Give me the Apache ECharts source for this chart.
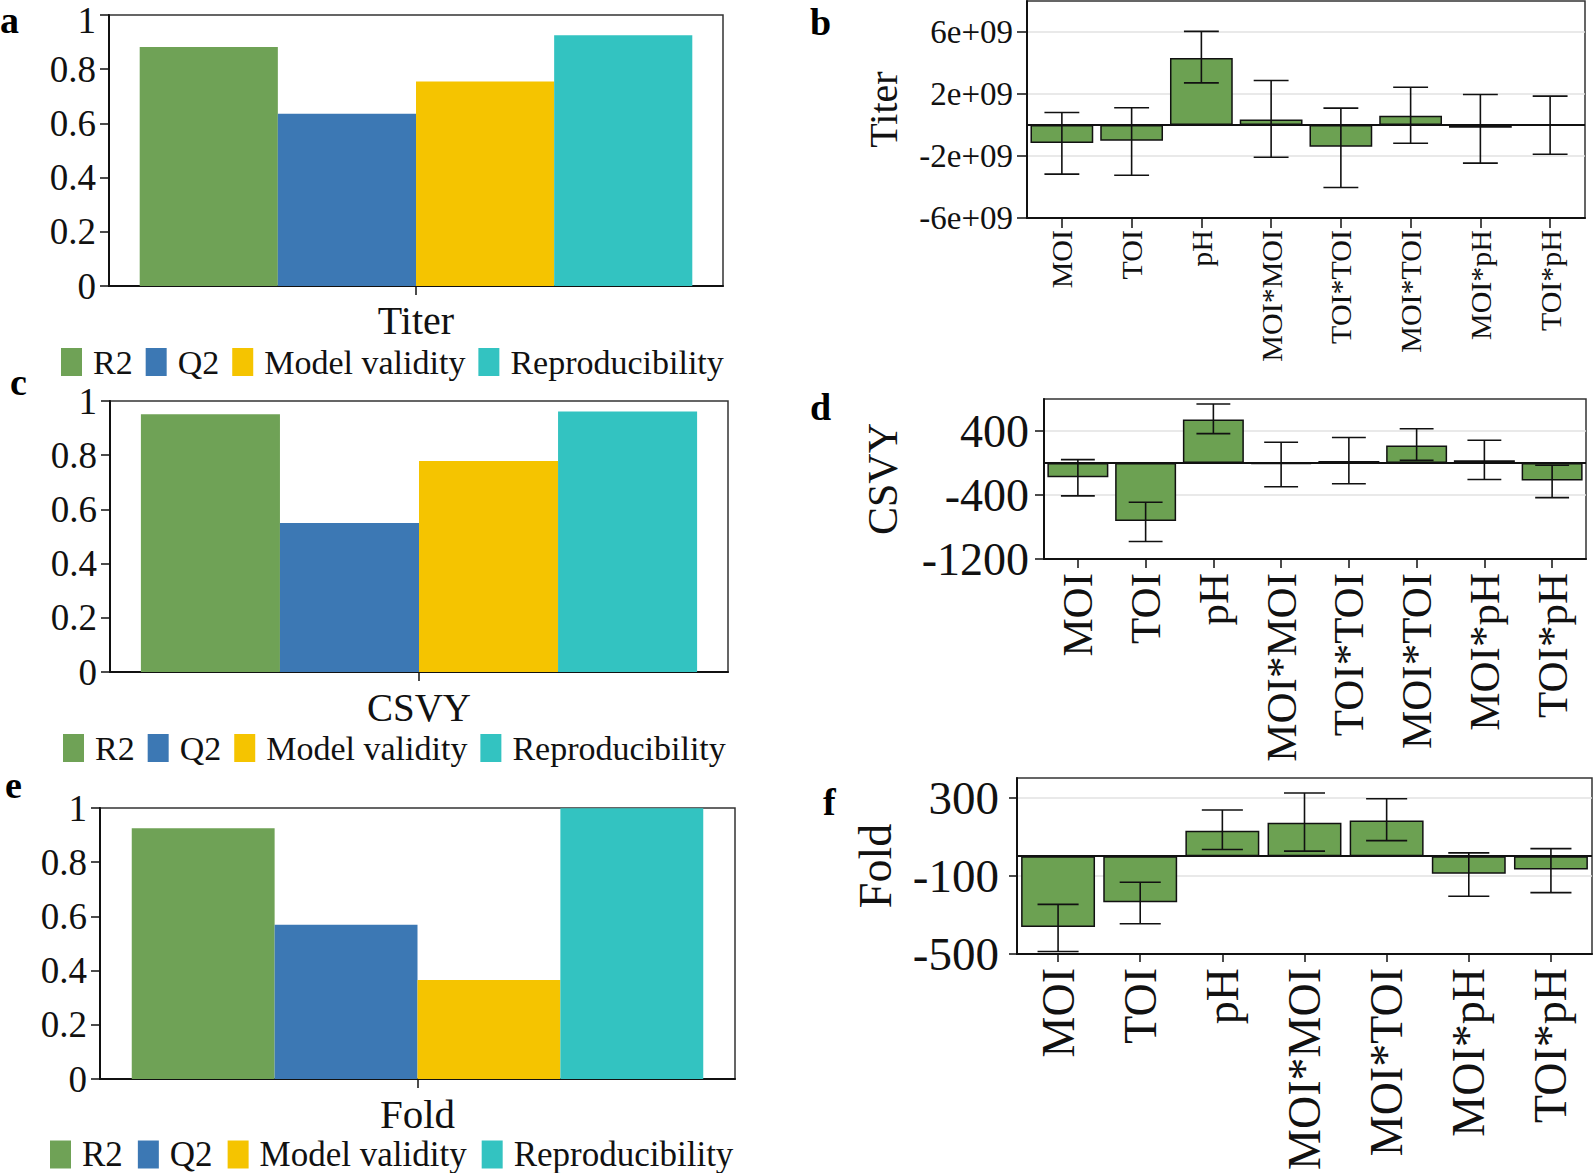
<!DOCTYPE html>
<html>
<head>
<meta charset="utf-8">
<script src="https://cdn.jsdelivr.net/npm/echarts@6/dist/echarts.min.js"></script>
<style>
  html, body { margin: 0; padding: 0; background: #fff; }
  #chart { width: 1594px; height: 1173px; }
</style>
</head>
<body>
<div id="chart"></div>
<script>
// ---------------- data ----------------
const statNames = ['R2', 'Q2', 'Model validity', 'Reproducibility'];
const responseNames = ['Titer', 'CSVY', 'Fold'];
const titerStats = [0.882, 0.636, 0.755, 0.925];
const csvyStats = [0.951, 0.550, 0.779, 0.961];
const foldStats = [0.925, 0.569, 0.365, 0.999];

const termsTiter = ['MOI', 'TOI', 'pH', 'MOI*MOI', 'TOI*TOI', 'MOI*TOI', 'MOI*pH', 'TOI*pH'];
const titerCoef = [-1.16e9, -1.02e9, 4.33e9, 0.36e9, -1.41e9, 0.60e9, -0.17e9, 0.04e9];
const titerLow  = [-3.17e9, -3.24e9, 2.72e9, -2.08e9, -4.03e9, -1.18e9, -2.46e9, -1.89e9];
const titerHigh = [0.81e9, 1.11e9, 6.04e9, 2.87e9, 1.09e9, 2.44e9, 1.97e9, 1.86e9];

const termsCsvy = ['MOI', 'TOI', 'pH', 'MOI*MOI', 'TOI*TOI', 'MOI*TOI', 'MOI*pH', 'TOI*pH'];
const csvyCoef = [-178, -726, 544, -12, 25, 219, 33, -218];
const csvyLow  = [-411, -981, 367, -297, -260, 33, -206, -433];
const csvyHigh = [42, -491, 738, 260, 318, 429, 285, -29];

const termsFold = ['MOI', 'TOI', 'pH', 'MOI*MOI', 'MOI*TOI', 'MOI*pH', 'TOI*pH'];
const foldCoef = [-362, -236, 130, 171, 183, -89, -68];
const foldLow  = [-487, -345, 34, 26, 80, -205, -186];
const foldHigh = [-246, -133, 236, 323, 294, 17, 39];

const statTicks = [0, 0.2, 0.4, 0.6, 0.8, 1];
const titerTicks = [-6e9, -2e9, 2e9, 6e9];
const csvyTicks = [-1200, -400, 400];
const foldTicks = [-500, -100, 300];
const panelLetters = ['a', 'b', 'c', 'd', 'e', 'f'];

// ---------------- style ----------------
const FONT = 'Liberation Serif';
const statColors = ['#6FA256', '#3C78B4', '#F5C400', '#33C3C1'];
const coefColor = '#6CA152';
const ink = '#111';

const chart = echarts.init(document.getElementById('chart'), null, { renderer: 'svg' });

// left panels geometry
const leftGrids = [
  { left: 109, top: 15, width: 614, height: 271 },
  { left: 110, top: 401, width: 618, height: 271 },
  { left: 100, top: 808, width: 635, height: 271 }
];
const leftCatFont = [40, 39, 41];
const leftCatMargin = [14, 16, 14];
const legendPos = [
  { left: 61, top: 345, font: 34, gap: 13 },
  { left: 63, top: 731, font: 34, gap: 13 },
  { left: 50, top: 1137, font: 35, gap: 15 }
];
// right panels geometry
const rightGrids = [
  { left: 1027, top: 1, width: 558, height: 217 },
  { left: 1044, top: 399, width: 542, height: 160 },
  { left: 1017, top: 778, width: 575, height: 176 }
];

const grids = [];
const xAxes = [];
const yAxes = [];
const series = [];

const statSets = [titerStats, csvyStats, foldStats];
statSets.forEach((vals, p) => {
  grids.push(Object.assign({ show: true, borderColor: '#333', borderWidth: 1.5, outerBoundsMode: 'none', containLabel: false }, leftGrids[p]));
  xAxes.push({
    type: 'category', gridIndex: p, data: [responseNames[p]],
    axisLine: { show: true, lineStyle: { color: ink, width: 2 } },
    axisTick: { show: true, alignWithLabel: true, length: 9, lineStyle: { color: ink, width: 1.5 } },
    axisLabel: { fontFamily: FONT, fontSize: leftCatFont[p], color: ink, margin: leftCatMargin[p] }
  });
  // the top label of panel a sits at the page edge; it is drawn as a graphic text below
  const labelVals = p === 0 ? statTicks.slice(0, -1) : statTicks;
  yAxes.push({
    type: 'value', gridIndex: p, min: 0, max: 1, interval: 0.2,
    axisLine: { show: true, lineStyle: { color: ink, width: 2 } },
    axisTick: { show: true, length: 9, customValues: statTicks, lineStyle: { color: ink, width: 1.5 } },
    axisLabel: { fontFamily: FONT, fontSize: 37, lineHeight: 28, color: ink, margin: 13, customValues: labelVals },
    splitLine: { show: false }
  });
  statNames.forEach((nm, k) => {
    series.push({
      type: 'bar', name: nm, xAxisIndex: p, yAxisIndex: p,
      data: [vals[k]], barGap: '0%', barCategoryGap: '10%',
      itemStyle: { color: statColors[k] }
    });
  });
});

const coefSets = [
  { terms: termsTiter, coef: titerCoef, low: titerLow, high: titerHigh, min: -6e9, max: 8e9, interval: 4e9, ticks: titerTicks,
    fmt: v => (v / 1e9) + 'e+09', tickFont: 33, catFont: 30, name: 'Titer', nameFont: 40, nameGap: 124, labMargin: 14, catMargin: 12, tickLen: 10 },
  { terms: termsCsvy, coef: csvyCoef, low: csvyLow, high: csvyHigh, min: -1200, max: 800, interval: 800, ticks: csvyTicks,
    fmt: v => String(v), tickFont: 46, catFont: 43, name: 'CSVY', nameFont: 42, nameGap: 140, labMargin: 15, catMargin: 14, tickLen: 9 },
  { terms: termsFold, coef: foldCoef, low: foldLow, high: foldHigh, min: -500, max: 400, interval: 400, ticks: foldTicks,
    fmt: v => String(v), tickFont: 47, catFont: 46, name: 'Fold', nameFont: 46, nameGap: 119, labMargin: 18, catMargin: 14, tickLen: 8 }
];

function renderErr(params, api) {
  const i = api.value(0);
  const lo = api.coord([i, api.value(1)]);
  const hi = api.coord([i, api.value(2)]);
  const half = api.size([1, 0])[0] * 0.25;
  const st = { stroke: ink, lineWidth: 1.6, fill: null };
  return {
    type: 'group',
    children: [
      { type: 'line', shape: { x1: lo[0], y1: lo[1], x2: hi[0], y2: hi[1] }, style: st },
      { type: 'line', shape: { x1: lo[0] - half, y1: lo[1], x2: lo[0] + half, y2: lo[1] }, style: st },
      { type: 'line', shape: { x1: hi[0] - half, y1: hi[1], x2: hi[0] + half, y2: hi[1] }, style: st }
    ]
  };
}

coefSets.forEach((c, j) => {
  const g = 3 + j;
  grids.push(Object.assign({ show: true, borderColor: '#333', borderWidth: 1.5, outerBoundsMode: 'none', containLabel: false }, rightGrids[j]));
  xAxes.push({
    type: 'category', gridIndex: g, data: c.terms,
    axisLine: { show: true, onZero: false, lineStyle: { color: ink, width: 2 } },
    axisTick: { show: true, alignWithLabel: true, length: c.tickLen, lineStyle: { color: ink, width: 1.5 } },
    axisLabel: { fontFamily: FONT, fontSize: c.catFont, color: ink, rotate: 90, margin: c.catMargin, interval: 0 }
  });
  yAxes.push({
    type: 'value', gridIndex: g, min: c.min, max: c.max, interval: c.interval,
    name: c.name, nameLocation: 'middle', nameRotate: 90, nameGap: c.nameGap,
    nameTextStyle: { fontFamily: FONT, fontSize: c.nameFont, color: ink },
    axisLine: { show: true, lineStyle: { color: ink, width: 2 } },
    axisTick: { show: true, length: c.tickLen, customValues: c.ticks, lineStyle: { color: ink, width: 1.5 } },
    axisLabel: { fontFamily: FONT, fontSize: c.tickFont, color: ink, margin: c.labMargin, customValues: c.ticks, formatter: c.fmt },
    splitLine: { show: true, lineStyle: { color: '#e2e2e2', width: 1.5 } }
  });
  series.push({
    type: 'bar', name: c.name + ' coefficient', xAxisIndex: g, yAxisIndex: g,
    data: c.coef, barCategoryGap: '10%',
    itemStyle: { color: coefColor, borderColor: ink, borderWidth: 1.5 },
    markLine: {
      silent: true, symbol: ['none', 'none'], label: { show: false },
      lineStyle: { color: ink, width: 1.8, type: 'solid' },
      data: [{ yAxis: 0 }]
    }
  });
  series.push({
    type: 'custom', name: c.name + ' interval', xAxisIndex: g, yAxisIndex: g,
    renderItem: renderErr, encode: { x: 0, y: [1, 2] },
    data: c.terms.map((t, i) => [i, c.low[i], c.high[i]]), z: 5
  });
});

const legends = legendPos.map(pos => ({
  left: pos.left, top: pos.top, orient: 'horizontal', padding: 0,
  data: statNames, icon: 'rect', itemWidth: 21, itemHeight: 28, itemGap: pos.gap,
  selectedMode: false,
  textStyle: { fontFamily: FONT, fontSize: pos.font, color: ink, padding: [0, 0, 0, 6] }
}));

const letterPos = [[0, 1], [810, 3], [10, 363], [810, 388], [5, 766], [823, 783]];
const graphic = panelLetters.map((t, i) => ({
  type: 'text', left: letterPos[i][0], top: letterPos[i][1],
  style: { text: t, font: 'bold 38px "Liberation Serif"', fill: '#000' }
}));
// top tick label of panel a (value 1), kept inside the page
graphic.push({
  type: 'text', right: 1594 - 96, top: 2,
  style: { text: String(statTicks[statTicks.length - 1]), font: '37px "Liberation Serif"', fill: ink }
});

chart.setOption({
  animation: false,
  backgroundColor: '#fff',
  textStyle: { fontFamily: FONT },
  grid: grids,
  xAxis: xAxes,
  yAxis: yAxes,
  legend: legends,
  graphic: graphic,
  series: series
});
</script>
</body>
</html>
